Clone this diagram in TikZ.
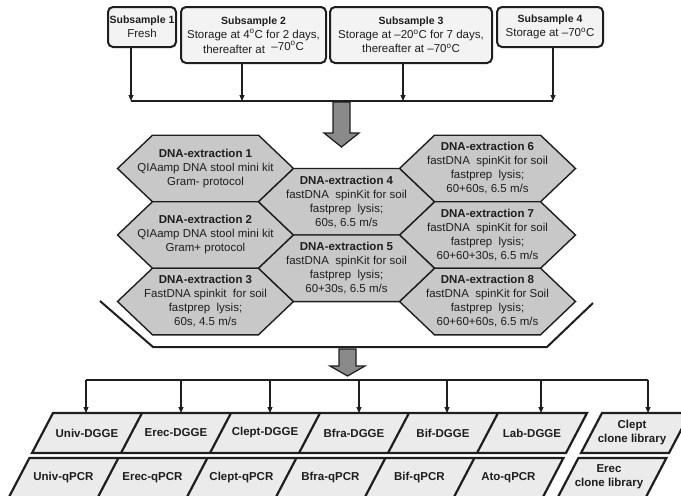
\documentclass[tikz,border=0pt]{standalone}
\usepackage{fontspec}
\setmainfont{Liberation Sans}
\usetikzlibrary{arrows.meta}
\definecolor{ink}{HTML}{1E1E1E}
\definecolor{hexfill}{HTML}{C8C8C8}
\definecolor{boxfill}{HTML}{F3F3F3}
\definecolor{parfill}{HTML}{EBEBEB}
\definecolor{bigfill}{HTML}{8A8A8A}
\newcommand\hexcell[4]{%
  \draw[hexline] ({#2-88},{#3}) -- ({#2-53},{#3-33.3}) -- ({#2+53},{#3-33.3}) -- ({#2+88},{#3}) -- ({#2+53},{#3+33.3}) -- ({#2-53},{#3+33.3}) -- cycle;
  \node[txt] (#1) at (#2,#3) {#4};}
\begin{document}
\begin{tikzpicture}[x=1pt,y=-1pt,
  txt/.style={font=\fontsize{11.5}{14}\selectfont, align=center, text=ink, inner sep=0pt},
  lbl/.style={txt, font=\fontsize{11.5}{14}\selectfont\bfseries},
  samplebox/.style={txt, draw=ink, line width=2pt, fill=boxfill, rounded corners=5pt},
  hexline/.style={draw=ink, line width=1.4pt, fill=hexfill, line join=miter},
  parline/.style={draw=ink, line width=2.2pt, fill=parfill, line join=miter},
  arr/.style={-{Triangle[length=6pt,width=5pt]}, line width=1.1pt, draw=ink},
  bus/.style={draw=ink, line width=2.2pt},
  bigarr/.style={draw=ink, line width=1.2pt, fill=bigfill, line join=miter},
  bracket/.style={draw=ink, line width=2pt, line join=miter}]
\useasboundingbox (0,0) rectangle (681,496);
\clip (0,0) rectangle (681,496);

% ---- top sample boxes
\node[samplebox, minimum width=68pt, minimum height=40pt] (s1) at (142,27) {{\fontsize{10.5}{14}\selectfont\bfseries Subsample 1}\\Fresh};
\node[samplebox, minimum width=145pt, minimum height=56pt] (s2) at (253.5,35) {{\fontsize{10.5}{14}\selectfont\bfseries Subsample 2}\\Storage at 4\textsuperscript{o}C for 2 days,\\thereafter at\ \ \raisebox{3pt}{--70\textsuperscript{o}C}};
\node[samplebox, minimum width=162pt, minimum height=56pt] (s3) at (411,35) {{\fontsize{10.5}{14}\selectfont\bfseries Subsample 3}\\Storage at --20\textsuperscript{o}C for 7 days,\\thereafter at --70\textsuperscript{o}C};
\node[samplebox, minimum width=106pt, minimum height=40pt] (s4) at (550,27) {{\fontsize{10.5}{14}\selectfont\bfseries Subsample 4}\\Storage at --70\textsuperscript{o}C};

\coordinate (b1) at (131,101);
\coordinate (b2) at (242,101);
\coordinate (b3) at (403,101);
\coordinate (b4) at (553,101);
\draw[bus] (b1) -- (b4);
\draw[arr] (s1.south -| b1) -- (b1);
\draw[arr] (s2.south -| b2) -- (b2);
\draw[arr] (s3.south -| b3) -- (b3);
\draw[arr] (s4.south -| b4) -- (b4);

% ---- big arrow 1
\draw[bigarr] (333,102) -- (350,102) -- (350,133) -- (359,133) -- (341.5,147) -- (324,133) -- (333,133) -- cycle;

% ---- honeycomb of extractions
\hexcell{e1}{205.5}{168.5}{\textbf{DNA-extraction 1}\\QIAamp DNA stool mini kit\\Gram- protocol}
\hexcell{e2}{205.5}{235}{\textbf{DNA-extraction 2}\\QIAamp DNA stool mini kit\\Gram+ protocol}
\hexcell{e3}{205.5}{301.5}{\textbf{DNA-extraction 3}\\FastDNA spinkit\ \ for soil\\fastprep\ \ lysis;\\60s, 4.5 m/s}
\hexcell{e6}{487.5}{168.5}{\textbf{DNA-extraction 6}\\fastDNA\ \ spinKit\ for soil\\fastprep\ \ lysis;\\60+60s, 6.5 m/s}
\hexcell{e7}{487.5}{235}{\textbf{DNA-extraction 7}\\fastDNA\ \ spinKit\ for soil\\fastprep\ \ lysis;\\60+60+30s, 6.5 m/s}
\hexcell{e8}{487.5}{301.5}{\textbf{DNA-extraction 8}\\fastDNA\ \ spinKit\ for Soil\\fastprep\ \ lysis;\\60+60+60s, 6.5 m/s}
\hexcell{e4}{346.5}{201.75}{\textbf{DNA-extraction 4}\\fastDNA\ \ spinKit\ for soil\\fastprep\ \ lysis;\\60s, 6.5 m/s}
\hexcell{e5}{346.5}{268.25}{\textbf{DNA-extraction 5}\\fastDNA\ \ spinKit\ for soil\\fastprep\ \ lysis;\\60+30s, 6.5 m/s}

% ---- bracket under the honeycomb
\draw[bracket] (100,301) -- (153,347) -- (547,347) -- (593,303);

% ---- big arrow 2
\draw[bigarr] (339,349) -- (356,349) -- (356,366) -- (365,366) -- (347.5,376) -- (330,366) -- (339,366) -- cycle;

% ---- distribution bus 2
\coordinate (d1) at (86,380);
\coordinate (d2) at (181,380);
\coordinate (d3) at (270,380);
\coordinate (d4) at (359,380);
\coordinate (d5) at (447,380);
\coordinate (d6) at (541,380);
\coordinate (d7) at (648,380);
\coordinate (rowtop) at (0,413);
\draw[bus] (d1) -- (d7);
\foreach \d in {d1,d2,d3,d4,d5,d6,d7}{\draw[arr] (\d) -- (\d |- rowtop);}

% ---- DGGE row
\draw[parline] (53,413) -- (587,413) -- (566,453) -- (32,453) -- cycle;
\foreach \t in {142,231,320,409,498}{\draw[ink, line width=2.2pt] (\t,413) -- ({\t-21},453);}
% ---- qPCR row
\draw[parline] (29.4,458) -- (563.4,458) -- (541.4,500) -- (7.4,500) -- cycle;
\foreach \t in {142,231,320,409,498}{\draw[ink, line width=2.2pt] ({\t-23.6},458) -- ({\t-45.6},500);}
% ---- clone library boxes
\draw[parline] (602,413) -- (690,413) -- (669,453) -- (581,453) -- cycle;
\draw[parline] (578.4,458) -- (666.4,458) -- (644.4,500) -- (556.4,500) -- cycle;

\node[lbl] (g1) at (87,433) {Univ-DGGE};
\node[lbl] (g2) at (176,433) {Erec-DGGE};
\node[lbl] (g3) at (265,433) {Clept-DGGE};
\node[lbl] (g4) at (354,433) {Bfra-DGGE};
\node[lbl] (g5) at (443,433) {Bif-DGGE};
\node[lbl] (g6) at (532,433) {Lab-DGGE};
\node[lbl] (q1) at (63.4,478) {Univ-qPCR};
\node[lbl] (q2) at (152.4,478) {Erec-qPCR};
\node[lbl] (q3) at (241.4,478) {Clept-qPCR};
\node[lbl] (q4) at (330.4,478) {Bfra-qPCR};
\node[lbl] (q5) at (419.4,478) {Bif-qPCR};
\node[lbl] (q6) at (508.4,478) {Ato-qPCR};
\node[lbl] (c1) at (632,433) {Clept\\clone library};
\node[lbl] (c2) at (609,477) {Erec\\clone library};
\end{tikzpicture}
\end{document}
